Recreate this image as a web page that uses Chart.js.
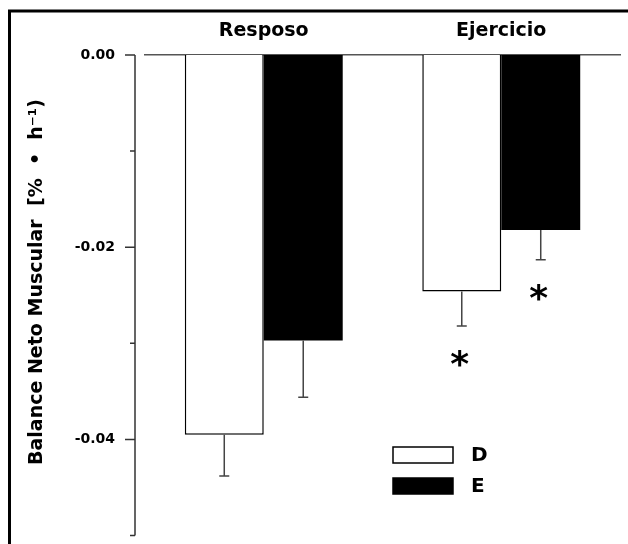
<!DOCTYPE html>
<html>
<head>
<meta charset="utf-8">
<script src="https://cdn.jsdelivr.net/npm/chart.js@4.4.1/dist/chart.umd.min.js"></script>
<style>
  html, body { margin: 0; padding: 0; background: #fff; }
  #wrap { width: 628px; height: 544px; }
</style>
</head>
<body>
<div id="wrap"><canvas id="chart" width="628" height="544"></canvas></div>
<script>
const categories = ["Resposo", "Ejercicio"];
const seriesNames = ["D", "E"];
const valuesD = [-0.0395, -0.0246];
const valuesE = [-0.0297, -0.0182];
const errorsD = [0.0043, 0.0036];
const errorsE = [0.0059, 0.0031];
const significantD = [false, true];
const significantE = [false, true];
const yTicks = [0, -0.01, -0.02, -0.03, -0.04, -0.05];

const FONT = "DejaVu Sans";
Chart.defaults.font.family = FONT;
Chart.defaults.color = "#000";

// frame around the figure (only top and left edges are visible)
const framePlugin = {
  id: "frame",
  beforeDraw(chart) {
    const ctx = chart.ctx;
    ctx.save();
    ctx.fillStyle = "#fff";
    ctx.fillRect(0, 0, chart.width, chart.height);
    ctx.strokeStyle = "#000";
    ctx.lineWidth = 3;
    ctx.beginPath();
    ctx.moveTo(9.5, chart.height);
    ctx.lineTo(9.5, 11);
    ctx.lineTo(chart.width, 11);
    ctx.stroke();
    ctx.restore();
  },
};

// y axis line set off to the left of the plot, with long/short ticks
const yAxisPlugin = {
  id: "yAxisLine",
  afterDraw(chart) {
    const ctx = chart.ctx;
    const y = chart.scales.y;
    const ax = chart.chartArea.left - 10;
    ctx.save();
    ctx.strokeStyle = "#333";
    ctx.lineWidth = 1.5;
    ctx.beginPath();
    ctx.moveTo(ax, y.getPixelForValue(0));
    ctx.lineTo(ax, y.getPixelForValue(-0.05));
    yTicks.forEach((v) => {
      const py = y.getPixelForValue(v);
      const major = Math.round(Math.abs(v) * 100) % 2 === 0;
      ctx.moveTo(ax - (major ? 10 : 5), py);
      ctx.lineTo(ax, py);
    });
    ctx.stroke();
    ctx.restore();
  },
};

// one-sided (downward) error bars and significance stars
const errorBarPlugin = {
  id: "errorBars",
  afterDatasetsDraw(chart) {
    const ctx = chart.ctx;
    const y = chart.scales.y;
    const errs = [errorsD, errorsE];
    const sig = [significantD, significantE];
    ctx.save();
    chart.data.datasets.forEach((ds, di) => {
      const meta = chart.getDatasetMeta(di);
      meta.data.forEach((bar, i) => {
        const end = y.getPixelForValue(ds.data[i] - errs[di][i]);
        ctx.strokeStyle = "#444";
        ctx.lineWidth = 1.5;
        ctx.beginPath();
        ctx.moveTo(bar.x, bar.y);
        ctx.lineTo(bar.x, end);
        ctx.moveTo(bar.x - 5, end);
        ctx.lineTo(bar.x + 5, end);
        ctx.stroke();
        if (sig[di][i]) {
          ctx.fillStyle = "#000";
          ctx.font = "bold 36px " + FONT;
          ctx.textAlign = "center";
          ctx.textBaseline = "middle";
          ctx.fillText("*", bar.x - 2, end + 41);
        }
      });
    });
    ctx.restore();
  },
};

// legend boxes placed inside the plot, lower right
const legendPlugin = {
  id: "boxLegend",
  afterDraw(chart) {
    const ctx = chart.ctx;
    ctx.save();
    chart.data.datasets.forEach((ds, i) => {
      const top = 447 + i * 31;
      ctx.fillStyle = ds.backgroundColor;
      ctx.fillRect(393, top, 60, 16);
      ctx.strokeStyle = "#000";
      ctx.lineWidth = 1.5;
      ctx.strokeRect(393, top, 60, 16);
      ctx.fillStyle = "#000";
      ctx.font = "bold 20px " + FONT;
      ctx.textAlign = "left";
      ctx.textBaseline = "middle";
      ctx.fillText(ds.label, 471, top + 9);
    });
    ctx.restore();
  },
};

new Chart(document.getElementById("chart"), {
  type: "bar",
  data: {
    labels: categories,
    datasets: [
      {
        label: seriesNames[0],
        data: valuesD,
        backgroundColor: "#fff",
        borderColor: "#000",
        borderWidth: 1.5,
      },
      {
        label: seriesNames[1],
        data: valuesE,
        backgroundColor: "#000",
        borderColor: "#000",
        borderWidth: 0,
      },
    ],
  },
  options: {
    responsive: false,
    animation: false,
    events: [],
    categoryPercentage: 0.665,
    barPercentage: 1,
    layout: { padding: { left: 10, top: 0, right: 8, bottom: 0 } },
    plugins: { legend: { display: false }, tooltip: { enabled: false } },
    scales: {
      x: {
        position: "top",
        grid: { display: false, drawTicks: false },
        border: { display: true, color: "#555", width: 1.5 },
        ticks: { padding: 13, font: { size: 19, weight: "bold" } },
        afterFit: (s) => { s.height = 55; },
      },
      y: {
        min: -0.05,
        max: 0,
        grid: { display: false, drawTicks: true, tickLength: 30 },
        border: { display: false },
        ticks: {
          stepSize: 0.01,
          padding: 0,
          font: { size: 14, weight: "bold" },
          callback: (v) => (Math.round(Math.abs(v) * 100) % 2 === 0 ? v.toFixed(2) : ""),
        },
        title: {
          display: true,
          text: "    Balance Neto Muscular  [%  •  h⁻¹)",
          font: { size: 19, weight: "bold" },
          padding: { top: 16, bottom: 0 },
        },
        afterFit: (s) => { s.width = 135; },
      },
    },
  },
  plugins: [framePlugin, yAxisPlugin, errorBarPlugin, legendPlugin],
});
</script>
</body>
</html>
